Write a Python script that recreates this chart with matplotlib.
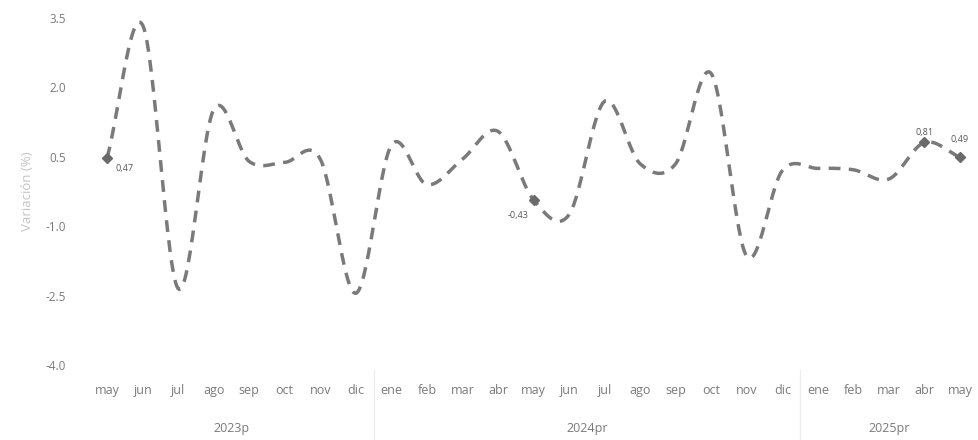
import numpy as np
import matplotlib
matplotlib.use("Agg")
import matplotlib.pyplot as plt
from matplotlib.transforms import blended_transform_factory

plt.rcParams['font.family'] = ['Open Sans', 'DejaVu Sans']

months = ["may", "jun", "jul", "ago", "sep", "oct", "nov", "dic",
          "ene", "feb", "mar", "abr", "may", "jun", "jul", "ago", "sep", "oct", "nov", "dic",
          "ene", "feb", "mar", "abr", "may"]
values = [0.47, 3.35, -2.35, 1.52, 0.40, 0.38, 0.45, -2.45,
          0.75, -0.10, 0.45, 1.05, -0.43, -0.75, 1.70, 0.35, 0.35, 2.30, -1.65, 0.20,
          0.25, 0.22, 0.02, 0.81, 0.49]
years = ["2023p", "2024pr", "2025pr"]
year_spans = [(0, 7), (8, 19), (20, 24)]
labeled_idx = [0, 12, 23, 24]
label_text = ["0,47", "-0,43", "0,81", "0,49"]
yticks = [3.5, 2.0, 0.5, -1.0, -2.5, -4.0]


def catmull_rom(y, n=30):
    y = np.asarray(y, float)
    m = len(y)
    tan = np.zeros(m)
    tan[1:-1] = (y[2:] - y[:-2]) / 2
    tan[0] = y[1] - y[0]
    tan[-1] = y[-1] - y[-2]
    xs, ys = [], []
    for i in range(m - 1):
        t = np.linspace(0, 1, n, endpoint=(i == m - 2))
        h00 = 2 * t**3 - 3 * t**2 + 1
        h10 = t**3 - 2 * t**2 + t
        h01 = -2 * t**3 + 3 * t**2
        h11 = t**3 - t**2
        ys.append(h00 * y[i] + h10 * tan[i] + h01 * y[i + 1] + h11 * tan[i + 1])
        xs.append(i + t)
    return np.concatenate(xs), np.concatenate(ys)


fig = plt.figure(figsize=(9.79, 4.4), dpi=100)
ax = fig.add_axes([0.0912, 0.1705, 0.9075, 0.7885])
x = np.arange(len(values))
sx, sy = catmull_rom(values)
ax.plot(sx, sy, color="#7a7a7a", lw=2.5, ls=(0, (3.4, 2.4)), solid_capstyle="butt")
lx = [x[i] for i in labeled_idx]
ly = [values[i] for i in labeled_idx]
ax.plot(lx, ly, ls="none", marker="D", ms=5, color="#6a6a6a")

offsets = [(0.25, -0.12, "left", "top"), (-0.15, -0.25, "right", "top"),
           (0.0, 0.12, "center", "bottom"), (0.0, 0.28, "center", "bottom")]
for i, t, (dx, dy, ha, va) in zip(labeled_idx, label_text, offsets):
    ax.text(x[i] + dx, values[i] + dy, t, fontsize=6.5, color="#555555", ha=ha, va=va)

ax.set_xlim(-0.5, len(values) - 0.5)
ax.set_ylim(-4.0, 3.5)
ax.set_yticks(yticks)
ax.set_yticklabels([f"{v:.1f}" for v in yticks], fontsize=8.5, color="#7a7a7a")
ax.set_xticks(x)
ax.set_xticklabels(months, fontsize=9, color="#7a7a7a")
ax.tick_params(axis="both", length=0)
ax.tick_params(axis="y", pad=17)
ax.tick_params(axis="x", pad=14)
for s in ax.spines.values():
    s.set_visible(False)
ax.set_ylabel("Variación (%)", fontsize=9.5, color="#c4c4c4", labelpad=8)

tr = blended_transform_factory(ax.transData, fig.transFigure)
for yl, (a, b) in zip(years, year_spans):
    ax.text((a + b) / 2, 0.027, yl, transform=tr, ha="center", va="center",
            fontsize=9, color="#7a7a7a")
for xs_ in [7.5, 19.5]:
    ax.plot([xs_, xs_], [0.0, 0.16], transform=tr, color="#ececec", lw=1, clip_on=False)

fig.savefig("out.png", dpi=100, facecolor="white")
